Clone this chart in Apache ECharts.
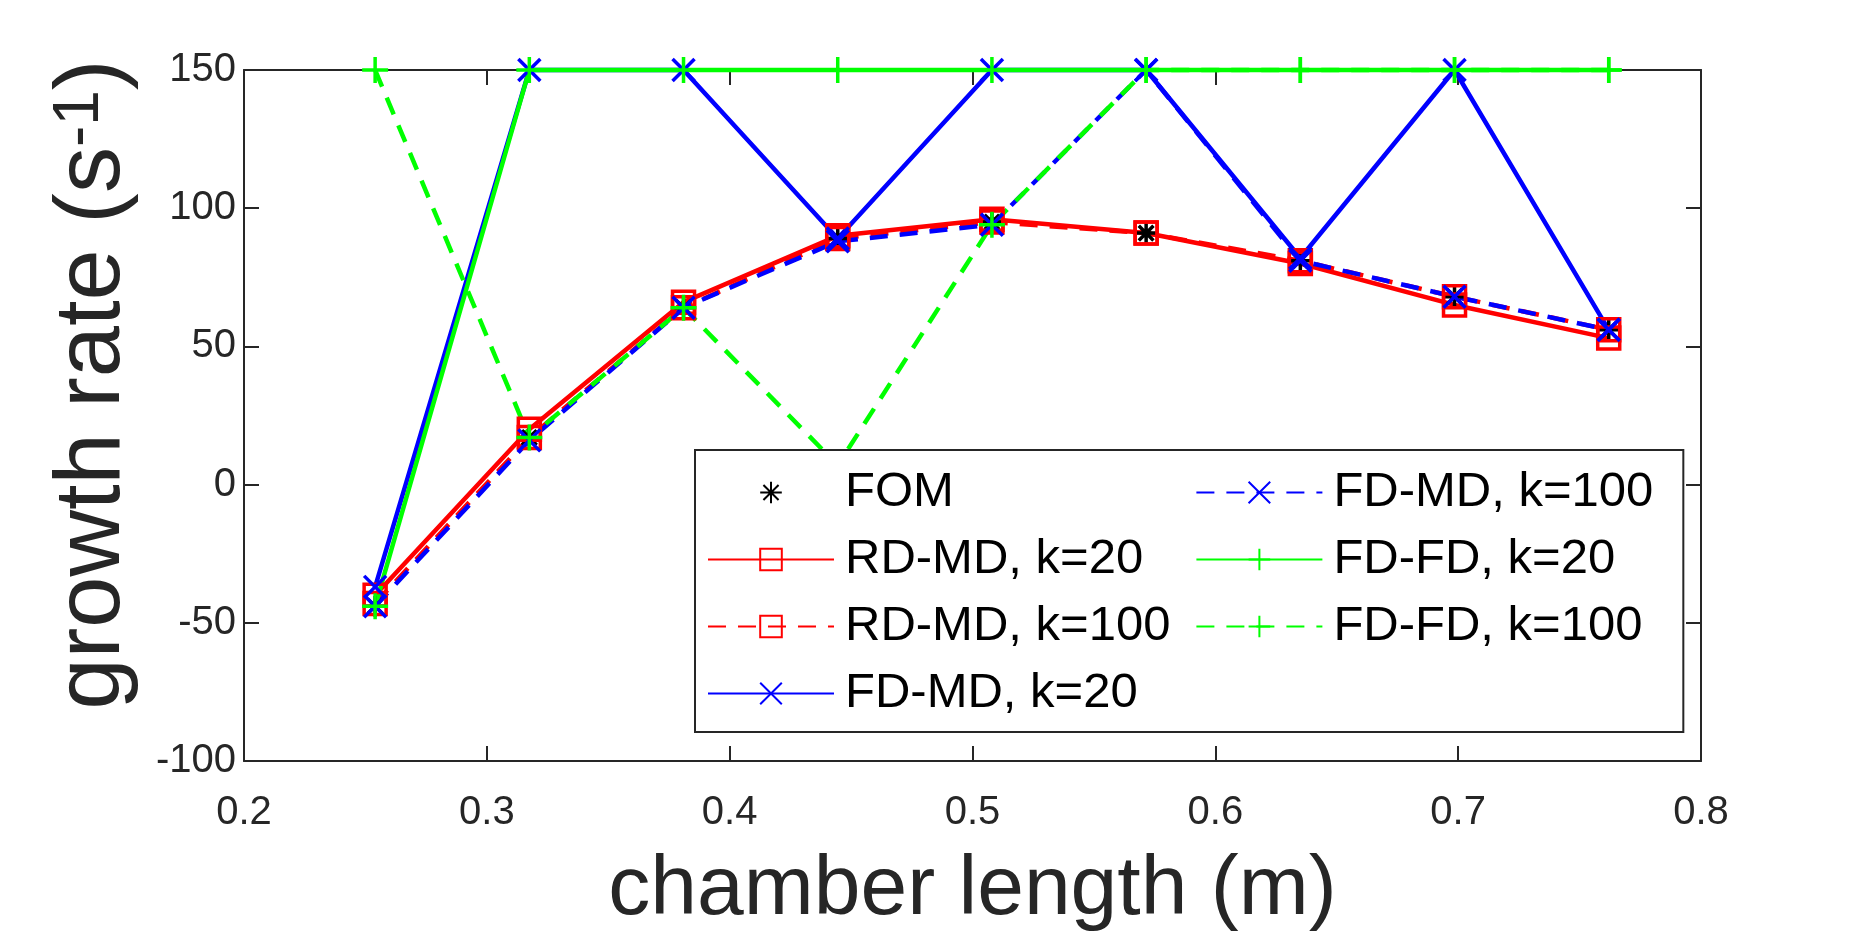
<!DOCTYPE html>
<html>
<head>
<meta charset="utf-8">
<title>growth rate vs chamber length</title>
<script src="https://cdn.jsdelivr.net/npm/echarts@6/dist/echarts.min.js"></script>
<style>
html, body { margin: 0; padding: 0; background: #fff; }
#chart { width: 1875px; height: 938px; }
</style>
</head>
<body>
<div id="chart"></div>
<script>
// chamber length in m (10 to 30 inch)
var chamberLength = [0.254, 0.3175, 0.381, 0.4445, 0.508, 0.5715, 0.635, 0.6985, 0.762];

// growth rate, s^-1 (unstable cases pinned at 150)
var fom     = [-44, 17, 64, 89, 95, 91, 81, 68, 56];
var rdmd20  = [-40, 20, 66, 90, 96, 91, 80, 65, 53];
var rdmd100 = [-43, 17, 64, 89, 95, 91, 81, 68, 56];
var fdmd20  = [-37, 150, 150, 89, 150, 150, 82, 150, 56];
var fdmd100 = [-44, 16, 64, 88, 94, 150, 81, 68, 56];
var fdfd20  = [-44, 150, 150, 150, 150, 150, 150, 150, 150];
var fdfd100 = [150, 17, 64, 7, 94, 150, 150, 150, 150];

var seriesNames = ['FOM', 'RD-MD, k=20', 'RD-MD, k=100', 'FD-MD, k=20', 'FD-MD, k=100', 'FD-FD, k=20', 'FD-FD, k=100'];

var xTicks = {min: 0.2, max: 0.8, step: 0.1};
var yTicks = {min: -100, max: 150, step: 50};

var FONT = 'Liberation Sans, Arial, Helvetica, sans-serif';
var INK = '#262626';

var SQUARE = 'rect';
var CROSS = 'path://M0,0L10,10M10,0L0,10';
var PLUS = 'path://M5,0L5,10M0,5L10,5';
var STAR = 'path://M5,0L5,10M0,5L10,5M1.5,1.5L8.5,8.5M8.5,1.5L1.5,8.5';

function pairs(ys) {
    var out = [];
    for (var i = 0; i < ys.length; i++) {
        out.push([chamberLength[i], ys[i]]);
    }
    return out;
}

function makeSeries(name, ys, color, dashed, symbol, size, noLine) {
    return {
        name: name,
        type: 'line',
        data: pairs(ys),
        symbol: symbol,
        symbolSize: size,
        showSymbol: true,
        clip: false,
        lineStyle: {
            color: color,
            width: noLine ? 0 : 4.5,
            opacity: noLine ? 0 : 1,
            type: dashed ? [18, 12] : 'solid'
        },
        itemStyle: {
            color: 'rgba(0,0,0,0)',
            borderColor: color,
            borderWidth: 3.5
        },
        emphasis: {disabled: true}
    };
}

var series = [
    makeSeries(seriesNames[0], fom, '#000000', false, STAR, 21, true),
    makeSeries(seriesNames[1], rdmd20, '#ff0000', false, SQUARE, 22),
    makeSeries(seriesNames[2], rdmd100, '#ff0000', true, SQUARE, 22),
    makeSeries(seriesNames[3], fdmd20, '#0000ff', false, CROSS, 22),
    makeSeries(seriesNames[4], fdmd100, '#0000ff', true, CROSS, 22),
    makeSeries(seriesNames[5], fdfd20, '#00ff00', false, PLUS, 26),
    makeSeries(seriesNames[6], fdfd100, '#00ff00', true, PLUS, 26)
];

function valueAxis(pos, t, showLabel, extra) {
    var ax = {
        type: 'value',
        position: pos,
        min: t.min,
        max: t.max,
        interval: t.step,
        splitLine: {show: false},
        axisLine: {show: true, onZero: false, lineStyle: {color: INK, width: 2}},
        axisTick: {show: true, inside: true, length: 15, lineStyle: {color: INK, width: 2}},
        axisLabel: {show: showLabel, color: INK, fontSize: 40, fontFamily: FONT}
    };
    for (var k in extra) ax[k] = extra[k];
    return ax;
}

var xMain = valueAxis('bottom', xTicks, true, {
    name: 'chamber length (m)',
    nameLocation: 'middle',
    nameGap: 88,
    nameTextStyle: {color: INK, fontSize: 84, fontFamily: FONT}
});
xMain.axisLabel.margin = 32;
xMain.axisLabel.formatter = function (v) { return v.toFixed(1); };

var option = {
    animation: false,
    backgroundColor: '#ffffff',
    grid: {left: 244, right: 174, top: 70, bottom: 175, containLabel: false},
    xAxis: [
        xMain,
        valueAxis('top', xTicks, false, {})
    ],
    yAxis: [
        valueAxis('left', yTicks, true, {
            name: '{a|growth rate (s}{sup|-1}{a|)}',
            nameLocation: 'middle',
            nameRotate: 90,
            nameGap: 104,
            nameTextStyle: {
                color: INK,
                fontFamily: FONT,
                padding: [0, 0, 0, 62],
                rich: {
                    a: {fontSize: 92, color: INK, fontFamily: FONT},
                    sup: {fontSize: 64, color: INK, fontFamily: FONT, verticalAlign: 'top', padding: [0, 0, 8, 0]}
                }
            }
        }),
        valueAxis('right', yTicks, false, {})
    ],
    legend: {
        data: seriesNames,
        orient: 'vertical',
        left: 695,
        top: 450,
        height: 250,
        padding: [18, 23, 14, 12],
        itemGap: 18,
        itemWidth: 126,
        itemHeight: 27,
        selectedMode: false,
        backgroundColor: '#ffffff',
        borderColor: INK,
        borderWidth: 2,
        borderRadius: 0,
        textStyle: {color: '#000000', fontSize: 49, lineHeight: 48, fontFamily: FONT, padding: [0, 7, 0, 6]}
    },
    series: series
};

var myChart = echarts.init(document.getElementById('chart'));
myChart.setOption(option);
</script>
</body>
</html>
